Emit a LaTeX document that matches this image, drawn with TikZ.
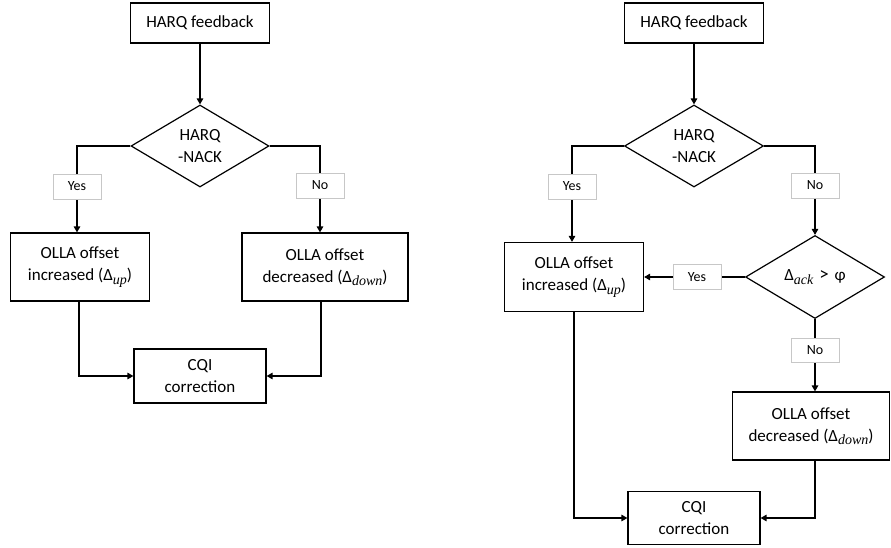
\documentclass[tikz,border=0pt]{standalone}
\usepackage{fontspec}
\setmainfont{Carlito}
\newfontfamily\subfont{Liberation Serif}
\usetikzlibrary{arrows.meta,shapes.geometric}
\newcommand\lowsub[1]{\raisebox{-0.4ex}{\fontsize{14}{14}\selectfont\subfont\itshape #1}}
\begin{document}
\begin{tikzpicture}[x=1pt,y=-1pt,
  box/.style={draw, line width=1.2pt, align=center, inner sep=0pt, font=\fontsize{17}{22}\selectfont},
  dia/.style={draw, diamond, line width=1.2pt, align=center, inner sep=0pt, font=\fontsize{17}{22}\selectfont},
  lab/.style={draw=black!22, line width=0.8pt, fill=white, minimum width=48pt, minimum height=25pt, inner sep=0pt, font=\fontsize{14}{14}\selectfont},
  con/.style={line width=1.3pt},
  arr/.style={con, -{Triangle[length=6pt,width=6.5pt]}}]
\useasboundingbox (0,0) rectangle (891,548);

% ---------- left flowchart ----------
\node[box, minimum width=139pt, minimum height=40pt] (hf1) at (200,23) {HARQ feedback};
\node[dia, minimum width=138pt, minimum height=82pt] (d1) at (200,146) {HARQ\\-NACK};
\node[box, minimum width=139pt, minimum height=68pt] (o1) at (80,267) {OLLA offset\\increased (Δ\lowsub{up})};
\node[box, minimum width=166pt, minimum height=68pt] (o2) at (325,267) {OLLA offset\\decreased (Δ\lowsub{down})};
\node[box, minimum width=132pt, minimum height=54pt] (c1) at (200,376) {CQI\\correction};
\coordinate (ly1) at (77,186.5);
\coordinate (ln1) at (320,185.5);

\draw[arr] (hf1) -- (d1);
\draw[arr] (d1.west) -| (ly1) -- (ly1 |- o1.north);
\draw[arr] (d1.east) -| (ln1) -- (ln1 |- o2.north);
\draw[arr] ([xshift=-1pt]o1.south) |- (c1.west);
\draw[arr] ([xshift=-4pt]o2.south) |- (c1.east);
\node[lab] (ly1n) at (ly1) {Yes};
\node[lab] (ln1n) at (ln1) {No};

% ---------- right flowchart ----------
\node[box, minimum width=139pt, minimum height=40pt] (hf2) at (694,23) {HARQ feedback};
\node[dia, minimum width=139pt, minimum height=82pt] (d2) at (694,146) {HARQ\\-NACK};
\node[dia, minimum width=139pt, minimum height=83pt] (d3) at (815,277) {Δ\lowsub{ack}\hspace{0.35em}{\fontsize{19}{19}\selectfont >}\hspace{0.35em}φ};
\node[box, minimum width=139pt, minimum height=69pt] (o3) at (574,277) {OLLA offset\\increased (Δ\lowsub{up})};
\node[box, minimum width=157pt, minimum height=68pt] (o4) at (811,426) {OLLA offset\\decreased (Δ\lowsub{down})};
\node[box, minimum width=132pt, minimum height=53pt] (c2) at (694,518) {CQI\\correction};
\coordinate (ly2) at (572,186.5);
\coordinate (ln2) at (815,185.5);
\coordinate (ly3) at (697,277);
\coordinate (ln3) at (815,350);

\draw[arr] (hf2) -- (d2);
\draw[arr] (d2.west) -| (ly2) -- (ly2 |- o3.north);
\draw[arr] (d2.east) -| (ln2) -- (d3.north);
\draw[arr] (d3.west) -- (o3.east);
\draw[arr] (d3.south) -- (d3.south |- o4.north);
\draw[arr] (o3.south) |- (c2.west);
\draw[arr] (d3.south |- o4.south) |- (c2.east);
\node[lab] (ly2n) at (ly2) {Yes};
\node[lab] (ln2n) at (ln2) {No};
\node[lab] (ly3n) at (ly3) {Yes};
\node[lab, minimum height=24pt] (ln3n) at (ln3) {No};
\end{tikzpicture}
\end{document}
